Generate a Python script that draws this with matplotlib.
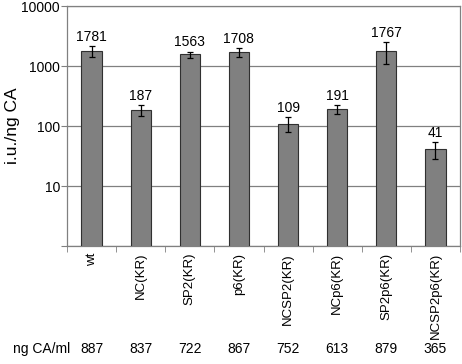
import matplotlib.pyplot as plt
import numpy as np

plt.rcParams['font.family'] = ['Liberation Sans', 'DejaVu Sans']

constructs = ['wt', 'NC(KR)', 'SP2(KR)', 'p6(KR)', 'NCSP2(KR)',
              'NCp6(KR)', 'SP2p6(KR)', 'NCSP2p6(KR)']
infectivity = [1781, 187, 1563, 1708, 109, 191, 1767, 41]
errors = [380, 40, 180, 300, 30, 30, 700, 13]
ng_ca_ml = [887, 837, 722, 867, 752, 613, 879, 365]

fig = plt.figure(figsize=(4.62, 3.64), dpi=100)
ax = fig.add_axes([67 / 462, 1 - 246 / 364, 393 / 462, 240 / 364])

x = np.arange(len(constructs))
ax.bar(x, infectivity, width=0.41, color='#808080', edgecolor='#303030',
       linewidth=0.8, zorder=3)
ax.errorbar(x, infectivity, yerr=errors, fmt='none', ecolor='black',
            elinewidth=0.9, capsize=2.5, capthick=0.9, zorder=4)

for xi, v, e in zip(x, infectivity, errors):
    ax.annotate(str(v), (xi, v + e), xytext=(0, 1.5), textcoords='offset points',
                ha='center', va='bottom', fontsize=10)

ax.set_yscale('log')
ax.set_ylim(1, 10000)
ax.set_xlim(-0.5, len(constructs) - 0.5)
ax.set_yticks([1, 10, 100, 1000, 10000])
ax.set_yticklabels(['', '10', '100', '1000', '10000'])
ax.minorticks_off()
ax.yaxis.grid(True, color='#808080', linewidth=0.9, zorder=0)
ax.tick_params(axis='y', labelsize=10, length=4, color='#808080', pad=1)

ax.set_xticks(x)
ax.set_xticklabels(constructs, rotation=90, fontsize=9.5)
ax.tick_params(axis='x', length=0, pad=5)
ax.set_xticks(np.arange(len(constructs) + 1) - 0.5, minor=True)
ax.tick_params(axis='x', which='minor', length=4, color='#808080')

for s in ax.spines.values():
    s.set_color('#808080')
    s.set_linewidth(0.9)

ax.set_ylabel('i.u./ng CA', fontsize=12.5)
ax.yaxis.set_label_coords(-47 / 393, 0.5)

row_y = 1 - 349 / 364
fig.text(13 / 462, row_y, 'ng CA/ml', fontsize=10, va='center', ha='left')
for xi, n in zip(x, ng_ca_ml):
    xf = fig.transFigure.inverted().transform(ax.transData.transform((xi, 1)))[0]
    fig.text(xf, row_y, str(n), fontsize=10, va='center', ha='center')

fig.savefig('out.png', dpi=100)
